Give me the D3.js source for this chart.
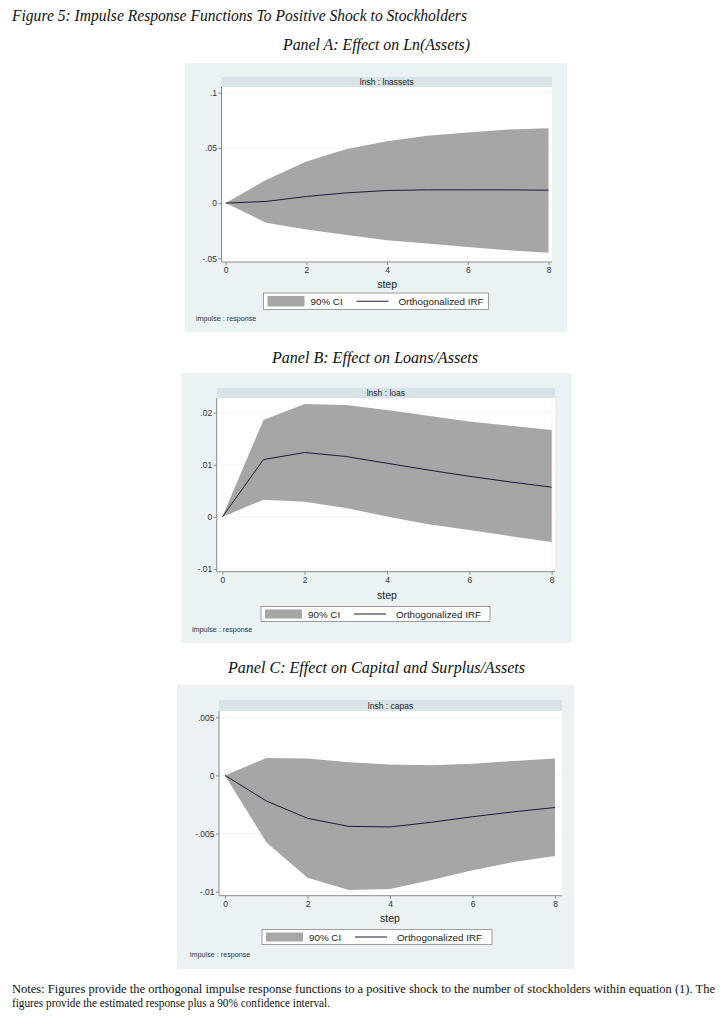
<!DOCTYPE html>
<html><head><meta charset="utf-8">
<script src="https://cdn.jsdelivr.net/npm/d3@7/dist/d3.min.js"></script>
<style>body{margin:0;background:#fff}svg{display:block}</style>
</head><body>
<svg id="c" width="723" height="1024"></svg>
<script>
// ---------- data ----------
const steps = [0,1,2,3,4,5,6,7,8];

const assetsIRF   = [0, 0.0015, 0.006, 0.0093, 0.0114, 0.0120, 0.0120, 0.0120, 0.0117];
const assetsUpper = [0, 0.021, 0.0377, 0.049, 0.056, 0.061, 0.064, 0.0666, 0.0678];
const assetsLower = [0, -0.0178, -0.024, -0.029, -0.0337, -0.0367, -0.0398, -0.0428, -0.045];

const loansIRF    = [0, 0.0110, 0.01236, 0.0116, 0.0103, 0.0090, 0.0078, 0.0067, 0.0057];
const loansUpper  = [0, 0.0186, 0.02166, 0.0215, 0.0205, 0.0194, 0.0183, 0.0175, 0.0167];
const loansLower  = [0, 0.0033, 0.0029, 0.0017, 0.0001, -0.0014, -0.0025, -0.0037, -0.0048];

const capasIRF    = [0, -0.00219, -0.00369, -0.00438, -0.00443, -0.00403, -0.00355, -0.00313, -0.00276];
const capasUpper  = [0, 0.0015, 0.00145, 0.00114, 0.00094, 0.00088, 0.0010, 0.00125, 0.00145];
const capasLower  = [0, -0.00574, -0.0088, -0.00986, -0.00977, -0.0090, -0.00815, -0.00744, -0.00693];

const xTicks = [0,2,4,6,8];
const assetsTicks = [-0.05, 0, 0.05, 0.1];
const assetsTickLabels = ["-.05","0",".05",".1"];
const loansTicks = [-0.01, 0, 0.01, 0.02];
const loansTickLabels = ["-.01","0",".01",".02"];
const capasTicks = [-0.01, -0.005, 0, 0.005];
const capasTickLabels = ["-.01","-.005","0",".005"];

const stripTitles = ["lnsh : lnassets","lnsh : loas","lnsh : capas"];
const panelTitles = ["Panel A: Effect on Ln(Assets)","Panel B: Effect on Loans/Assets","Panel C: Effect on Capital and Surplus/Assets"];
const figTitle = "Figure 5: Impulse Response Functions To Positive Shock to Stockholders";
const notes = ["Notes: Figures provide the orthogonal impulse response functions to a positive shock to the number of stockholders within equation (1). The",
               "figures provide the estimated response plus a 90% confidence interval."];
const legendLabels = ["90% CI","Orthogonalized IRF"];
const xLabel = "step";
const noteLabel = "impulse : response";

// ---------- drawing ----------
const svg = d3.select("#c");
const serif = "'Liberation Serif','DejaVu Serif',serif";
const sans = "'Liberation Sans',Arial,sans-serif";

function serifText(txt, x, y, size, width, italic){
  svg.append("text").attr("x",x).attr("y",y)
    .attr("font-family",serif).attr("font-size",size)
    .attr("font-style",italic?"italic":"normal")
    .attr("fill","#111")
    .attr("textLength",width).attr("lengthAdjust","spacingAndGlyphs")
    .text(txt);
}

serifText(figTitle, 12, 21, 16.5, 455, true);
serifText(panelTitles[0], 283, 50, 16.5, 187, true);
serifText(panelTitles[1], 272, 363, 16.5, 206, true);
serifText(panelTitles[2], 228, 673, 16.5, 297, true);
serifText(notes[0], 12, 993, 12.5, 703, false);
serifText(notes[1], 12, 1007, 12.5, 318, false);

const panels = [
  {irf:assetsIRF, up:assetsUpper, lo:assetsLower, ticks:assetsTicks, labels:assetsTickLabels, strip:stripTitles[0],
   bg:[185,63,382,269], strip_y:[77,87], plot:[221.5,552,87,262], yDom:[-0.05,0.1], yRange:[258.3,92.7], xRange:[225.7,548.5],
   legend:[263.5,293,225,16.5], stepY:288, impY:321, impX:196},
  {irf:loansIRF, up:loansUpper, lo:loansLower, ticks:loansTicks, labels:loansTickLabels, strip:stripTitles[1],
   bg:[181.5,373,390,270], strip_y:[388,398], plot:[216.7,555,398,571.7], yDom:[-0.01,0.02], yRange:[569,412.7], xRange:[222.3,551.7],
   legend:[261,606.5,229,15], stepY:599, impY:632, impX:192},
  {irf:capasIRF, up:capasUpper, lo:capasLower, ticks:capasTicks, labels:capasTickLabels, strip:stripTitles[2],
   bg:[177,685,397,284], strip_y:[700,711], plot:[219,562,711,895.7], yDom:[-0.01,0.005], yRange:[891.7,717.3], xRange:[225,555],
   legend:[262,929.5,230,15], stepY:922, impY:957, impX:190}
];

panels.forEach(p=>{
  const g = svg.append("g");
  const [bx,by,bw,bh] = p.bg;
  g.append("rect").attr("x",bx).attr("y",by).attr("width",bw).attr("height",bh).attr("fill","#eaf2f3");
  const [pl,pr,pt,pb] = p.plot;
  // strip
  g.append("rect").attr("x",pl).attr("y",p.strip_y[0]).attr("width",pr-pl).attr("height",p.strip_y[1]-p.strip_y[0]).attr("fill","#d6e4e7");
  g.append("text").attr("x",(pl+pr)/2).attr("y",p.strip_y[1]-2).attr("text-anchor","middle")
    .attr("font-family",sans).attr("font-size",8.5).attr("fill","#222").text(p.strip);
  // plot region
  g.append("rect").attr("x",pl).attr("y",pt).attr("width",pr-pl).attr("height",pb-pt).attr("fill","#ffffff");

  const x = d3.scaleLinear().domain([0,8]).range(p.xRange);
  const y = d3.scaleLinear().domain(p.yDom).range(p.yRange);

  // faint gridlines
  g.selectAll(".grid").data(p.ticks).join("line")
    .attr("x1",pl).attr("x2",pr).attr("y1",d=>y(d)).attr("y2",d=>y(d))
    .attr("stroke","#eef3f4").attr("stroke-width",0.8);

  const band = d3.area().x((d,i)=>x(steps[i])).y0((d,i)=>y(p.lo[i])).y1((d,i)=>y(p.up[i]));
  g.append("path").datum(steps).attr("d",band).attr("fill","#a6a6a6");
  const line = d3.line().x((d,i)=>x(steps[i])).y((d,i)=>y(d));
  g.append("path").datum(p.irf).attr("d",line).attr("fill","none").attr("stroke","#1b1b3a").attr("stroke-width",1);

  // y axis
  const yAx = g.append("g").attr("transform",`translate(${pl},0)`)
    .call(d3.axisLeft(y).tickValues(p.ticks).tickSize(3).tickPadding(1.5).tickFormat((d,i)=>p.labels[i]));
  yAx.select(".domain").attr("d",`M0,${pt}V${pb}`).attr("stroke","#8a8a8a");
  yAx.selectAll(".tick line").attr("stroke","#8a8a8a");
  yAx.selectAll("text").attr("font-family",sans).attr("font-size",8.5).attr("fill","#333");
  // x axis
  const xAx = g.append("g").attr("transform",`translate(0,${pb})`)
    .call(d3.axisBottom(x).tickValues(xTicks).tickSize(3).tickPadding(2).tickFormat(d3.format("d")));
  xAx.select(".domain").attr("d",`M${pl},0H${pr}`).attr("stroke","#8a8a8a");
  xAx.selectAll(".tick line").attr("stroke","#8a8a8a");
  xAx.selectAll("text").attr("font-family",sans).attr("font-size",8.5).attr("fill","#333");

  // x title
  g.append("text").attr("x",(p.xRange[0]+p.xRange[1])/2).attr("y",p.stepY).attr("text-anchor","middle")
    .attr("font-family",sans).attr("font-size",10.5).attr("fill","#222").text(xLabel);

  // legend
  const [lx,ly,lw,lh] = p.legend;
  g.append("rect").attr("x",lx).attr("y",ly).attr("width",lw).attr("height",lh).attr("fill","#fff").attr("stroke","#777").attr("stroke-width",0.7);
  g.append("rect").attr("x",lx+4).attr("y",ly+3).attr("width",37).attr("height",lh-6).attr("fill","#a6a6a6");
  g.append("text").attr("x",lx+47).attr("y",ly+lh/2+3.5).attr("font-family",sans).attr("font-size",9.8).attr("fill","#222").text(legendLabels[0]);
  g.append("line").attr("x1",lx+93).attr("x2",lx+125).attr("y1",ly+lh/2).attr("y2",ly+lh/2).attr("stroke","#1b1b3a").attr("stroke-width",1);
  g.append("text").attr("x",lx+135).attr("y",ly+lh/2+3.5).attr("font-family",sans).attr("font-size",9.8).attr("fill","#222").text(legendLabels[1]);

  g.append("text").attr("x",p.impX).attr("y",p.impY).attr("font-family",sans).attr("font-size",7.2).attr("fill","#333").text(noteLabel);
});
</script>
</body></html>
